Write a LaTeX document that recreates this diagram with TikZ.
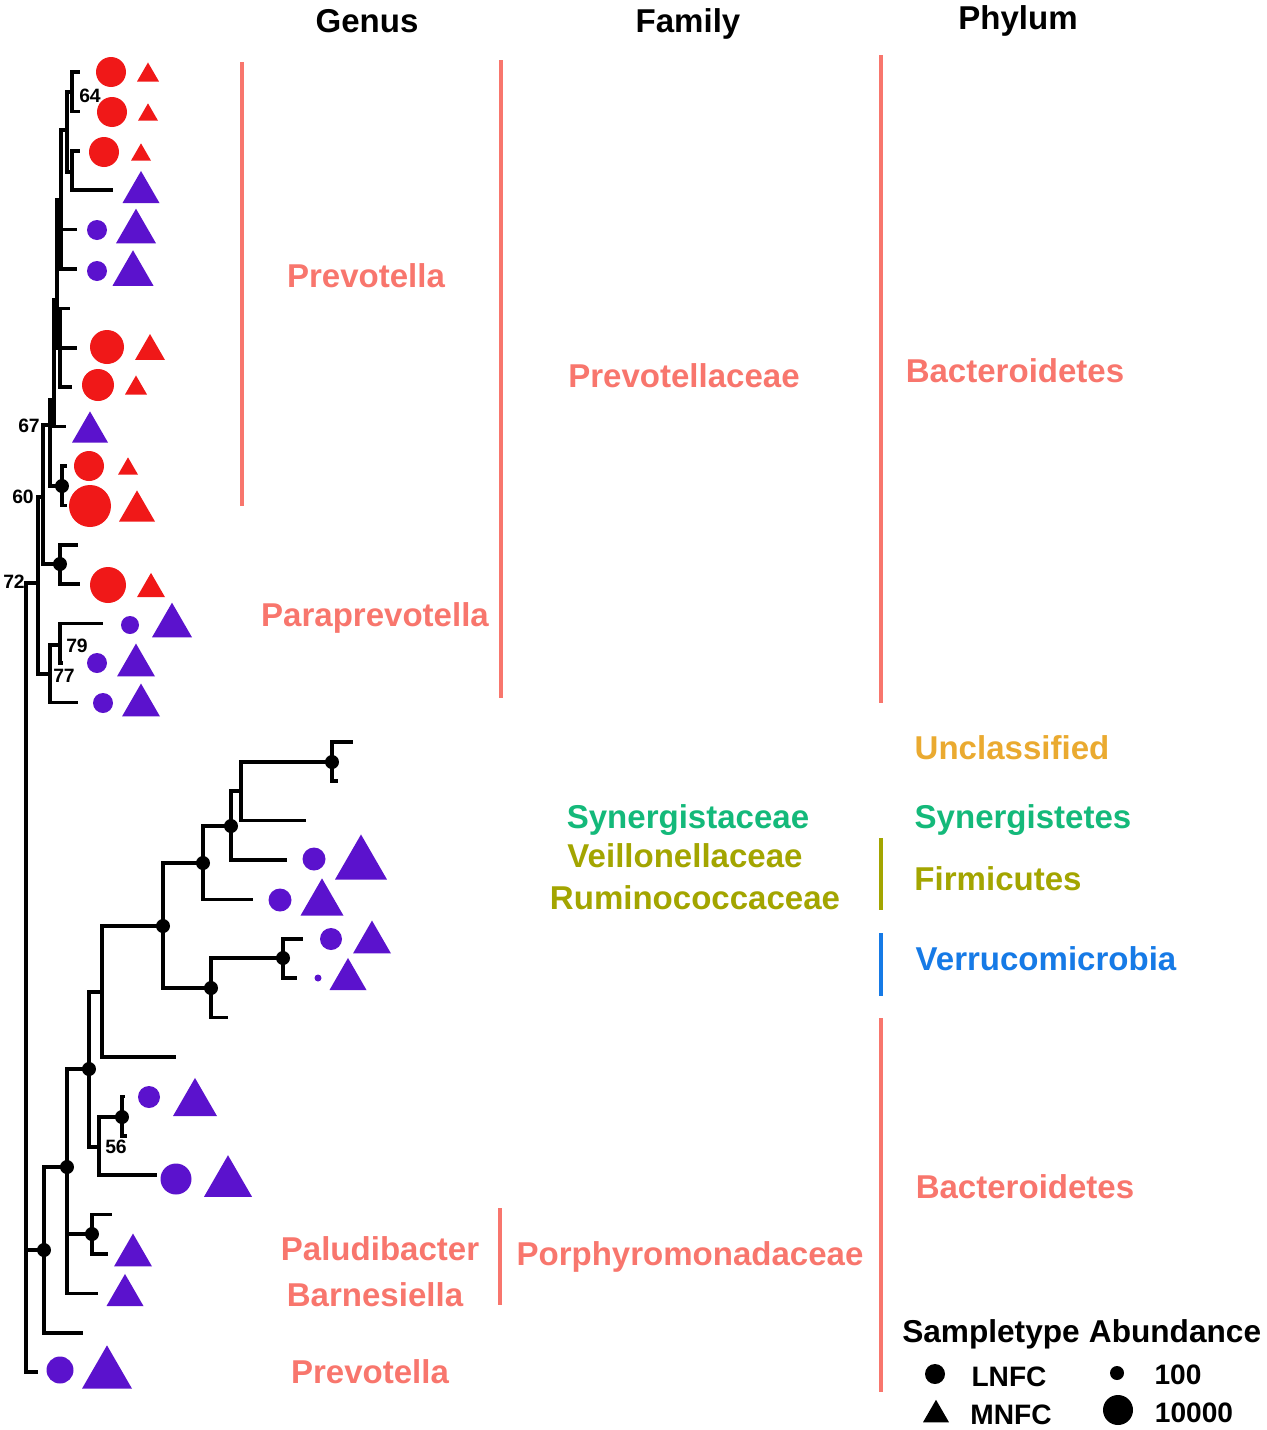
\documentclass[tikz,border=0pt]{standalone}
\usepackage{fontspec}
\setmainfont{Liberation Sans}
\usepackage{xcolor}
\usetikzlibrary{shapes.geometric}
\definecolor{taxsalmon}{HTML}{F8766D}
\definecolor{taxorange}{RGB}{234,170,48}
\definecolor{taxgreen}{RGB}{20,185,122}
\definecolor{taxolive}{RGB}{163,165,0}
\definecolor{taxblue}{RGB}{22,122,230}
\definecolor{lnred}{RGB}{240,24,24}
\definecolor{mnpurple}{RGB}{91,18,205}

\begin{document}
\begin{tikzpicture}[x=0.02cm, y=-0.02cm]
\tikzset{
	treeedge/.style={draw=black, line width=2.1pt},
	bsdot/.style={circle, fill=black, inner sep=0pt, minimum size={14*0.02cm}},
	lnfc/.style={circle, inner sep=0pt, minimum size={#1*0.02cm}},
	mnfc/.style={regular polygon, regular polygon sides=3, inner sep=0pt,
		minimum size={#1*1.1547*0.02cm}, yshift={-#1*0.1443*0.02cm}},
	taxlabel/.style={anchor=base, inner sep=0pt, font=\fontsize{18.8}{22}\selectfont\bfseries},
	keytitle/.style={anchor=base, inner sep=0pt, font=\fontsize{18}{21}\selectfont\bfseries},
	keyitem/.style={anchor=base, inner sep=0pt, font=\fontsize{16}{19}\selectfont\bfseries},
	bslabel/.style={anchor=base, inner sep=0pt, font=\fontsize{11}{13}\selectfont\bfseries},
	taxbar/.style={line width=2pt}
}
\useasboundingbox (0,0) rectangle (1267,1430);

% tips
\coordinate (t1) at (80,72);      \coordinate (t2) at (80,111.4);
\coordinate (t3) at (80,150.8);   \coordinate (t4) at (113,190.2);
\coordinate (t5) at (77,229.6);   \coordinate (t6) at (77,269);
\coordinate (t7) at (70,308.4);   \coordinate (t8) at (77,347.8);
\coordinate (t9) at (72,387.2);   \coordinate (t10) at (66,426.6);
\coordinate (t11) at (67,466);    \coordinate (t12) at (67,505.4);
\coordinate (t13) at (78,544.8);  \coordinate (t14) at (80,584.2);
\coordinate (t15) at (103,623.6); \coordinate (t16) at (63,663);
\coordinate (t17) at (78,702.4);  \coordinate (t18) at (353,741.8);
\coordinate (t19) at (338,781.2); \coordinate (t20) at (306,820.6);
\coordinate (t21) at (287,860);   \coordinate (t22) at (253,899.4);
\coordinate (t23) at (303,938.8); \coordinate (t24) at (297,978.2);
\coordinate (t25) at (228,1017.6);\coordinate (t26) at (176,1057);
\coordinate (t27) at (125,1096.4);\coordinate (t28) at (127,1135.8);
\coordinate (t29) at (157,1175.2);\coordinate (t30) at (112,1214.6);
\coordinate (t31) at (108,1254);  \coordinate (t32) at (98,1293.4);
\coordinate (t33) at (83,1332.8); \coordinate (t34) at (38,1372.2);

% inner nodes
\coordinate (n64) at (72,92);    \coordinate (g34) at (72,172);
\coordinate (sD) at (67,130);    \coordinate (sC) at (61,200);
\coordinate (sB) at (57,300);    \coordinate (g789) at (60,348);
\coordinate (sA) at (54,400);    \coordinate (n67) at (50,425);
\coordinate (n11) at (62,486);   \coordinate (n60) at (43,497);
\coordinate (n13) at (60,564);   \coordinate (n72) at (38,583);
\coordinate (n77) at (50,674);   \coordinate (n79) at (60,645);
\coordinate (root) at (26,1000);
\coordinate (nA) at (44,1250);   \coordinate (nB) at (67,1167);
\coordinate (nD) at (92,1234);   \coordinate (nC) at (89,1069);
\coordinate (n56) at (99,1147);  \coordinate (n56b) at (122,1117);
\coordinate (nE) at (102,992);   \coordinate (nF) at (163,926);
\coordinate (nG) at (203,863);   \coordinate (nI) at (231,826);
\coordinate (nJ) at (241,791);   \coordinate (nK) at (332,762);
\coordinate (nH) at (211,988);   \coordinate (nL) at (283,958);

% branches
\foreach \p/\c in {n64/t1,n64/t2,g34/t3,g34/t4,sD/n64,sD/g34,sC/sD,sC/t5,sC/t6,
	sB/sC,sB/g789,g789/t7,g789/t8,g789/t9,sA/sB,sA/t10,n67/sA,n67/n11,n11/t11,n11/t12,
	n60/n67,n60/n13,n13/t13,n13/t14,n72/n60,n72/n77,n77/n79,n77/t17,n79/t15,n79/t16,
	root/n72,root/nA,root/t34,nA/nB,nA/t33,nB/nC,nB/nD,nB/t32,nD/t30,nD/t31,
	nC/nE,nC/n56,n56/n56b,n56/t29,n56b/t27,n56b/t28,nE/nF,nE/t26,nF/nG,nF/nH,
	nG/nI,nG/t22,nI/nJ,nI/t21,nJ/nK,nJ/t20,nK/t18,nK/t19,nH/nL,nH/t25,nL/t23,nL/t24}
	\draw[treeedge] (\p) |- (\c);

% supported nodes
\foreach \n in {n11,n13,nK,nI,nG,nF,nH,nL,nC,n56b,nB,nD,nA}
	\node[bsdot] (d\n) at (\n) {};

% bootstrap values
\node[bslabel] (bs64) at (90,102) {64};
\node[bslabel] (bs67) at (29,432) {67};
\node[bslabel] (bs60) at (23,503) {60};
\node[bslabel] (bs72) at (14,588) {72};
\node[bslabel] (bs79) at (77,652) {79};
\node[bslabel] (bs77) at (64,682) {77};
\node[bslabel] (bs56) at (116,1153) {56};

% LNFC abundance
\foreach \n/\x/\y/\d/\c in {1/111/72/30/lnred, 2/112/112/30/lnred, 3/104/152/30/lnred,
	5/97/230/20/mnpurple, 6/97/271/20/mnpurple, 8/107/347/34/lnred, 9/98/385/32/lnred,
	11/89/466/30/lnred, 12/90/506/42/lnred, 14/108/585/36/lnred, 15/130/625/18/mnpurple,
	16/97/663/20/mnpurple, 17/103/703/20/mnpurple, 21/314/859/23/mnpurple,
	22/280/900/23/mnpurple, 23/331/939/22/mnpurple, 24/318/978/7/mnpurple,
	27/149/1097/22/mnpurple, 29/176/1179/31/mnpurple, 34/60/1370/27/mnpurple}
	\node[lnfc=\d, fill=\c] (l\n) at (\x,\y) {};

% MNFC abundance
\foreach \n/\x/\y/\w/\c in {1/148/72/22/lnred, 2/148/112/20/lnred, 3/141/152/20/lnred,
	4/141/187/37/mnpurple, 5/136/226/40/mnpurple, 6/133/268/41/mnpurple,
	8/150/347/30/lnred, 9/136/385/22/lnred, 10/90/427/36/mnpurple,
	11/128/466/20/lnred, 12/137/506/36/lnred, 14/151/585/28/lnred,
	15/172/620/40/mnpurple, 16/136/660/38/mnpurple, 17/141/700/38/mnpurple,
	21/361/857/52/mnpurple, 22/322/897/43/mnpurple, 23/372/937/38/mnpurple,
	24/348/974/37/mnpurple, 27/195/1097/44/mnpurple, 29/228/1176/48/mnpurple,
	31/133/1250/38/mnpurple, 32/125/1290/37/mnpurple, 34/107/1367/50/mnpurple}
	\node[mnfc=\w, fill=\c] (m\n) at (\x,\y) {};

% column heads
\node[taxlabel] (genus) at (367,32) {Genus};
\node[taxlabel] (family) at (688,32) {Family};
\node[taxlabel] (phylum) at (1018,30) {Phylum};

% genus
\draw[taxbar, taxsalmon] (242,62) -- (242,506);
\node[taxlabel, text=taxsalmon] (gPrevotella) at (366,287) {Prevotella};
\node[taxlabel, text=taxsalmon] (gParaprev) at (375,626) {Paraprevotella};
\node[taxlabel, text=taxsalmon] (gPaludibacter) at (380,1260) {Paludibacter};
\node[taxlabel, text=taxsalmon] (gBarnesiella) at (375,1306) {Barnesiella};
\node[taxlabel, text=taxsalmon] (gPrevotellaB) at (370,1383) {Prevotella};

% family
\draw[taxbar, taxsalmon] (501,60) -- (501,698);
\draw[taxbar, taxsalmon] (500,1208) -- (500,1305);
\node[taxlabel, text=taxsalmon] (fPrevotellaceae) at (684,387) {Prevotellaceae};
\node[taxlabel, text=taxgreen] (fSynergistaceae) at (688,828) {Synergistaceae};
\node[taxlabel, text=taxolive] (fVeillonellaceae) at (685,867) {Veillonellaceae};
\node[taxlabel, text=taxolive] (fRuminococcaceae) at (695,909) {Ruminococcaceae};
\node[taxlabel, text=taxsalmon] (fPorphyromonad) at (690,1265) {Porphyromonadaceae};

% phylum
\draw[taxbar, taxsalmon] (881,55) -- (881,703);
\draw[taxbar, taxolive] (881,838) -- (881,910);
\draw[taxbar, taxblue] (881,933) -- (881,996);
\draw[taxbar, taxsalmon] (881,1018) -- (881,1392);
\node[taxlabel, text=taxsalmon] (pBacteroidetes) at (1015,382) {Bacteroidetes};
\node[taxlabel, text=taxorange] (pUnclassified) at (1012,759) {Unclassified};
\node[taxlabel, text=taxgreen] (pSynergistetes) at (1023,828) {Synergistetes};
\node[taxlabel, text=taxolive] (pFirmicutes) at (998,890) {Firmicutes};
\node[taxlabel, text=taxblue] (pVerruco) at (1046,970) {Verrucomicrobia};
\node[taxlabel, text=taxsalmon] (pBacteroidetesB) at (1025,1198) {Bacteroidetes};

% legend
\node[keytitle] (keySample) at (991,1342) {Sampletype};
\node[keytitle] (keyAbund) at (1175,1342) {Abundance};
\node[lnfc=20, fill=black] (keyCirc) at (935,1374) {};
\node[mnfc=26, fill=black] (keyTri) at (936,1411) {};
\node[keyitem] (keyLNFC) at (1009,1386) {LNFC};
\node[keyitem] (keyMNFC) at (1011,1424) {MNFC};
\node[lnfc=14, fill=black] (keySmall) at (1117,1373) {};
\node[lnfc=30, fill=black] (keyLarge) at (1118,1410) {};
\node[keyitem] (key100) at (1178,1384) {100};
\node[keyitem] (key10000) at (1194,1422) {10000};
\end{tikzpicture}
\end{document}
